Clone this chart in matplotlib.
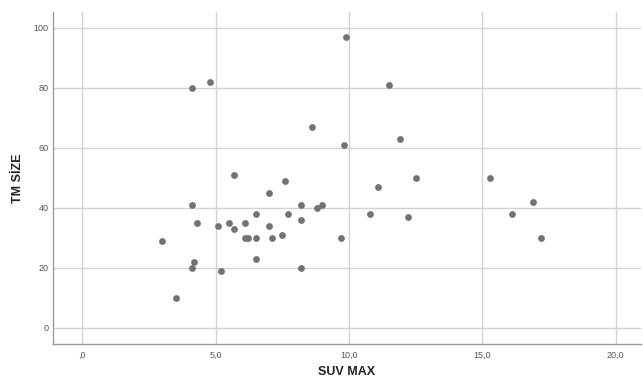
import matplotlib
matplotlib.use("Agg")
import matplotlib.pyplot as plt

plt.rcParams["font.family"] = ["Liberation Sans", "DejaVu Sans"]

suv_max = [4.1, 4.8, 8.6, 5.7, 7.6, 7.0, 9.9, 11.5, 9.8, 11.9, 11.1, 12.5, 15.3,
           3.0, 3.5, 4.1, 4.3, 4.2, 4.1, 5.1, 5.2, 5.5, 5.7, 6.1, 6.1, 6.2, 6.5,
           6.5, 6.5, 7.0, 7.1, 7.5, 7.7, 8.2, 8.2, 8.2, 8.8, 9.0, 9.7, 10.8, 12.2,
           16.1, 16.9, 17.2]
tm_size = [80, 82, 67, 51, 49, 45, 97, 81, 61, 63, 47, 50, 50,
           29, 10, 41, 35, 22, 20, 34, 19, 35, 33, 35, 30, 30, 38,
           30, 23, 34, 30, 31, 38, 41, 36, 20, 40, 41, 30, 38, 37,
           38, 42, 30]
x_ticks = [0, 5, 10, 15, 20]
x_ticklabels = [",0", "5,0", "10,0", "15,0", "20,0"]
y_ticks = [0, 20, 40, 60, 80, 100]

fig = plt.figure(figsize=(6.43, 3.81), dpi=100)
ax = fig.add_axes([0.082, 0.0963, 0.915, 0.873])
ax.scatter(suv_max, tm_size, s=24, color="#737373", linewidths=0, zorder=3)
ax.set_xlim(-1.11, 20.95)
ax.set_ylim(-5.5, 105.4)
ax.set_xticks(x_ticks)
ax.set_xticklabels(x_ticklabels)
ax.set_yticks(y_ticks)
ax.grid(True, color="#d2d2d2", linewidth=1.0, zorder=0)
ax.tick_params(length=0, labelsize=6.5, colors="#555555")
ax.tick_params(axis="x", pad=4.5)
ax.tick_params(axis="y", pad=3)
for s in ["top", "right"]:
    ax.spines[s].set_visible(False)
for s in ["left", "bottom"]:
    ax.spines[s].set_color("#9a9a9a")
    ax.spines[s].set_linewidth(1.0)
ax.set_xlabel("SUV MAX", fontsize=9, fontweight="bold", color="#222222")
ax.set_ylabel("TM SİZE", fontsize=9, fontweight="bold", color="#222222")
ax.xaxis.set_label_coords(0.5, -0.0833)
ax.xaxis.label.set_va("center")
ax.yaxis.set_label_coords(-0.059, 0.5)
ax.yaxis.label.set_va("center")
fig.savefig("out.png", dpi=100)
